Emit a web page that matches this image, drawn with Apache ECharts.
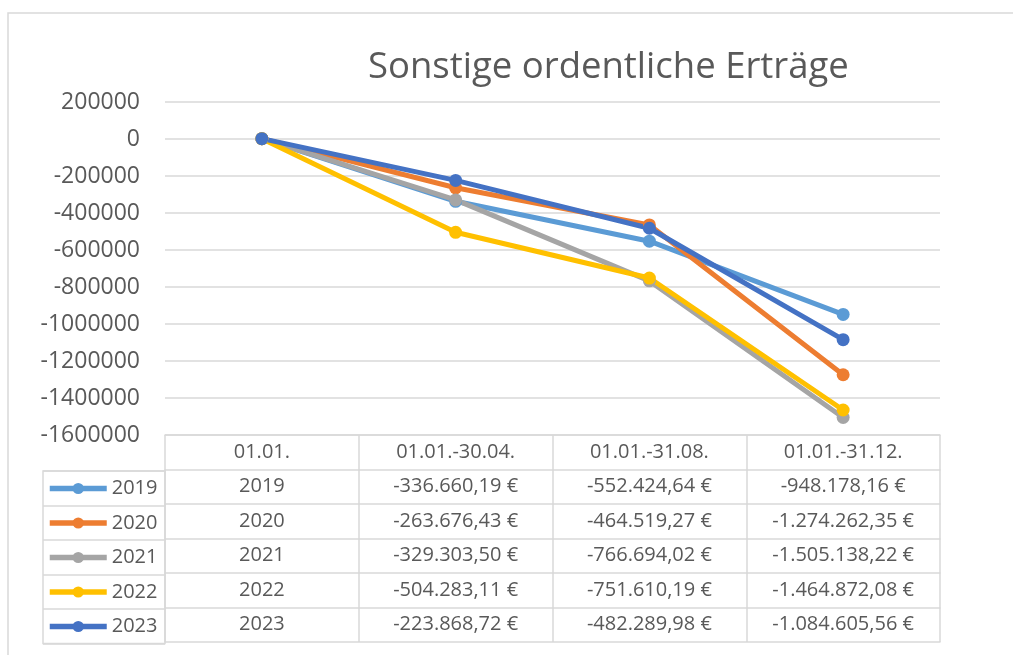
<!DOCTYPE html>
<html>
<head>
<meta charset="utf-8">
<script src="https://cdn.jsdelivr.net/npm/echarts@6/dist/echarts.min.js"></script>
<style>
  html, body { margin: 0; padding: 0; background: #fff; }
  #main { width: 1013px; height: 655px; }
</style>
</head>
<body>
<div id="main"></div>
<script>
// chart values
const categories = ['01.01.', '01.01.-30.04.', '01.01.-31.08.', '01.01.-31.12.'];
const years = ['2019', '2020', '2021', '2022', '2023'];
const colors = ['#5b9bd5', '#ed7d31', '#a5a5a5', '#ffc000', '#4472c4'];
const v2019 = [2019, -336660.19, -552424.64, -948178.16];
const v2020 = [2020, -263676.43, -464519.27, -1274262.35];
const v2021 = [2021, -329303.50, -766694.02, -1505138.22];
const v2022 = [2022, -504283.11, -751610.19, -1464872.08];
const v2023 = [2023, -223868.72, -482289.98, -1084605.56];
const rows = [v2019, v2020, v2021, v2022, v2023];

const TXT = '#595959';
const LINE = '#d9d9d9';
const FONT = '"Open Sans", "DejaVu Sans", sans-serif';
const rowH = 34.5;

// 1234567.8 -> "-1.234.567,80 €", the first column shows the year only
function fmt(v, i) {
    if (i === 0) return String(v);
    const neg = v < 0;
    const parts = Math.abs(v).toFixed(2).split('.');
    const intPart = parts[0].replace(/\B(?=(\d{3})+(?!\d))/g, '.');
    return (neg ? '-' : '') + intPart + ',' + parts[1] + ' €';
}

const tableLabel = { color: TXT, fontSize: 20, fontFamily: FONT, margin: 7, interval: 0 };
const tableLine = { show: true, onZero: false, lineStyle: { color: LINE, width: 1.5 } };
const tableTick = { show: true, length: rowH, interval: 0, lineStyle: { color: LINE, width: 1.5 } };

// header axis + one axis per table row + one closing axis
const xAxes = [{
    type: 'category',
    gridIndex: 0,
    data: categories,
    position: 'bottom',
    axisLine: tableLine,
    axisTick: tableTick,
    axisLabel: tableLabel
}];
rows.forEach((r, k) => {
    xAxes.push({
        type: 'category',
        gridIndex: 0,
        position: 'bottom',
        offset: rowH * (k + 1),
        data: r.map((v, i) => fmt(v, i)),
        axisLine: tableLine,
        axisTick: tableTick,
        axisLabel: tableLabel
    });
});
xAxes.push({
    type: 'category',
    gridIndex: 0,
    position: 'bottom',
    offset: rowH * 6,
    data: categories,
    axisLine: tableLine,
    axisTick: { show: false },
    axisLabel: { show: false }
});
// legend column box
xAxes.push({ type: 'value', gridIndex: 1, show: false });

const chart = echarts.init(document.getElementById('main'), null, { renderer: 'canvas' });
chart.setOption({
    animation: false,
    color: colors,
    title: {
        text: 'Sonstige ordentliche Erträge',
        left: 363,
        top: 44,
        textStyle: { color: TXT, fontSize: 36.5, fontWeight: 'normal', fontFamily: FONT }
    },
    legend: {
        orient: 'vertical',
        left: 47,
        top: 478.5,
        padding: 0,
        data: years,
        itemWidth: 57,
        itemHeight: 14,
        itemGap: 14.5,
        lineStyle: { width: 5.5 },
        textStyle: { color: TXT, fontSize: 20, fontFamily: FONT, lineHeight: 20 }
    },
    grid: [
        { left: 165, right: 73, top: 102, bottom: 220 },
        { left: 43, top: 471, width: 122, height: rowH * 5, show: true, borderColor: LINE, borderWidth: 1.5 }
    ],
    xAxis: xAxes,
    yAxis: [{
        type: 'value',
        gridIndex: 0,
        min: -1600000,
        max: 200000,
        interval: 200000,
        axisLine: { show: false },
        axisTick: { show: false },
        axisLabel: { color: TXT, fontSize: 23, fontFamily: FONT, margin: 25, formatter: (v) => String(v) },
        splitLine: { lineStyle: { color: LINE, width: 1.5 } }
    }, {
        type: 'category',
        gridIndex: 1,
        data: years,
        axisLine: { show: false },
        axisTick: { show: false },
        axisLabel: { show: false },
        splitLine: { show: true, interval: 0, lineStyle: { color: LINE, width: 1.5 } }
    }],
    graphic: [{
        type: 'rect',
        shape: { x: 8, y: 13, width: 1200, height: 800 },
        style: { fill: 'none', stroke: LINE, lineWidth: 1.5 },
        silent: true,
        z: -10
    }],
    series: rows.map((r, k) => ({
        name: years[k],
        type: 'line',
        xAxisIndex: 0,
        yAxisIndex: 0,
        data: r,
        symbol: 'circle',
        symbolSize: 13,
        lineStyle: { width: 5 },
        itemStyle: { color: colors[k] }
    }))
});
</script>
</body>
</html>
